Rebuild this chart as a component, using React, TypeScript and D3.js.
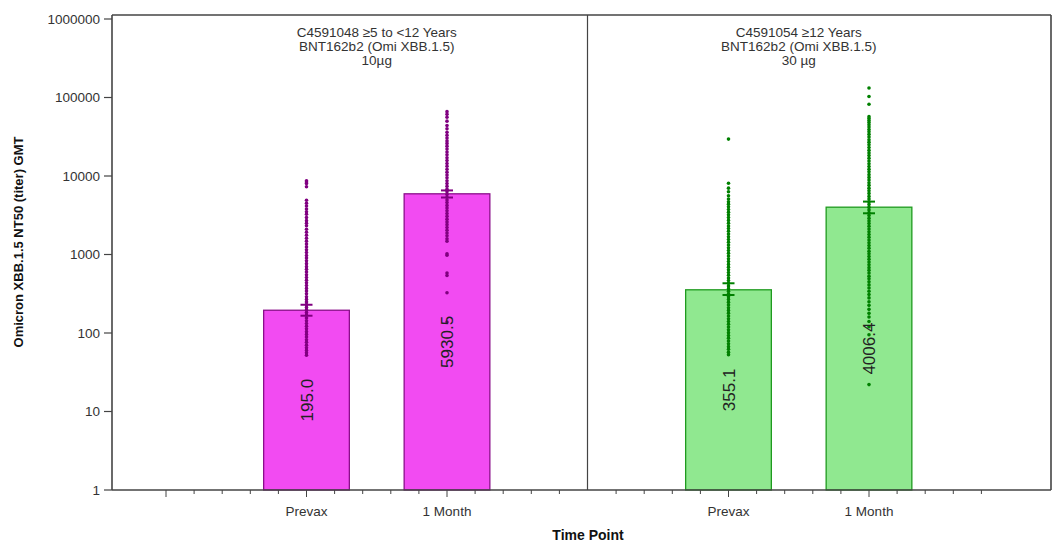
import React from 'react';
import * as d3 from 'd3';

const width = 1053;
const height = 542;
const plotLeft = 112;
const plotRight = 1051;
const plotTop = 15;
const plotBottom = 490;
const dividerX = 587.5;

// panel headings (3 lines each)
const cohorts = ['C4591048 \u22655 to <12 Years', 'C4591054 \u226512 Years'];
const vaccines = ['BNT162b2 (Omi XBB.1.5)', 'BNT162b2 (Omi XBB.1.5)'];
const doses = ['10\u00b5g', '30 \u00b5g'];

const timePoints = ['Prevax', '1 Month'];
const yTicks = [1, 10, 100, 1000, 10000, 100000, 1000000];

// GMT and 95% CI per panel, per time point
const gmtValues = [[195.0, 5930.5], [355.1, 4006.4]];
const ciLower = [[166, 5320], [305, 3350]];
const ciUpper = [[229, 6550], [430, 4720]];

// individual titers
const leftPrevax = [8700, 8400, 8000, 7300, 4900, 4500, 4150, 3800, 3500, 3250, 2950, 2700, 2500, 2320, 2100, 1920,
  1760, 1610, 1480, 1360, 1250, 1150, 1060, 970, 900, 830, 765, 700, 650, 600, 552, 510, 470, 436, 402, 370, 342,
  316, 290, 268, 249, 230, 212, 197, 182, 168, 155, 143, 132, 122, 113, 104, 96, 89, 82, 76, 70, 65, 60, 56, 52];
const leftMonth = [66000, 61000, 56000, 50000, 44000, 40000, 36000, 33000, 30500, 28000, 26000, 24000, 22000, 20200,
  18600, 17100, 15700, 14400, 13300, 12200, 11200, 10300, 9500, 8700, 8000, 7400, 6800, 6300, 5800, 5350, 4950,
  4580, 4220, 3900, 3600, 3320, 3060, 2820, 2600, 2400, 2210, 2040, 1880, 1730, 1590, 1480, 1020, 980, 580, 540,
  326, 138];
const rightPrevax = [29500, 8100, 7000, 6300, 5600, 5100, 4700, 4380, 4050, 3750, 3460, 3200, 2950, 2720, 2500,
  2310, 2140, 1980, 1820, 1680, 1550, 1430, 1320, 1220, 1125, 1035, 955, 880, 812, 748, 690, 638, 588, 545, 503,
  465, 430, 397, 367, 340, 313, 290, 268, 247, 228, 210, 194, 179, 165, 152, 140, 129, 119, 110, 101, 93, 86, 79,
  73, 67, 62, 57, 53];
const rightMonth = [132000, 103000, 82000, 57000, 54000, 51000, 48000, 45000, 42000, 39000, 36500, 34000, 31500,
  29000, 27000, 25000, 23000, 21300, 19700, 18200, 16800, 15500, 14300, 13200, 12200, 11300, 10400, 9600, 8900,
  8200, 7600, 7000, 6500, 6000, 5500, 5100, 4700, 4350, 4000, 3700, 3400, 3150, 2900, 2680, 2480, 2290, 2110, 1950,
  1800, 1660, 1530, 1410, 1300, 1200, 1100, 1020, 940, 870, 800, 740, 680, 630, 580, 530, 490, 450, 410, 375, 340,
  310, 280, 250, 225, 200, 178, 160, 140, 120, 95, 22];
const titers = [[leftPrevax, leftMonth], [rightPrevax, rightMonth]];

const barFill = ['#f24bf2', '#90e890'];
const barEdge = ['#8a0f8a', '#1f9a1f'];
const dotColor = ['#800080', '#008000'];
const font = 'Liberation Sans, Arial, sans-serif';

const y = d3.scaleLog().domain([1, 1000000]).range([plotBottom, 19]);

// each panel gets its own linear x axis: 0 = Prevax, 1 = 1 Month
const xPanels = [
  d3.scaleLinear().domain([-1, 2]).range([166, dividerX]),
  d3.scaleLinear().domain([-1, 2]).range([dividerX + 0.5, 1009.5]),
];
const tickSteps = [d3.range(0, 15), d3.range(1, 15)];
const barHalf = 0.305;

const App = () => {
  return (
    <svg width={width} height={height} style={{ position: 'absolute', left: 0, top: 0 }} fontFamily={font}>
      <rect x={0} y={0} width={width} height={height} fill="#fff" />

      {xPanels.map((x, p) => {
        const [d0] = x.domain();
        return (
          <g key={'panel' + p}>
            {gmtValues[p].map((g, i) => (
              <rect key={'bar' + i} x={x(i - barHalf)} y={y(g)} width={x(i + barHalf) - x(i - barHalf)}
                height={plotBottom - y(g)} fill={barFill[p]} stroke={barEdge[p]} strokeWidth={1.3} />
            ))}
            {titers[p].map((vals, i) => (
              <g key={'dots' + i} fill={dotColor[p]}>
                {vals.map((v, k) => (
                  <circle key={k} cx={x(i)} cy={y(v)} r={1.8} />
                ))}
              </g>
            ))}
            {gmtValues[p].map((g, i) => {
              const cx = x(i);
              return (
                <g key={'ci' + i} stroke={dotColor[p]} strokeWidth={2}>
                  <line x1={cx} x2={cx} y1={y(ciLower[p][i])} y2={y(ciUpper[p][i])} />
                  <line x1={cx - 6} x2={cx + 6} y1={y(ciLower[p][i])} y2={y(ciLower[p][i])} />
                  <line x1={cx - 6} x2={cx + 6} y1={y(ciUpper[p][i])} y2={y(ciUpper[p][i])} />
                </g>
              );
            })}
            {gmtValues[p].map((g, i) => {
              const cy = (plotBottom + y(g)) / 2;
              return (
                <text key={'lab' + i} transform={`translate(${x(i) + 6},${cy}) rotate(-90)`} textAnchor="middle"
                  fontSize={17} fill="#222">{g.toFixed(1)}</text>
              );
            })}
            {tickSteps[p].map((k) => {
              const v = d0 + k * 0.2;
              const major = k % 5 === 0;
              return (
                <line key={'t' + k} x1={x(v)} x2={x(v)} y1={plotBottom} y2={plotBottom + (major ? 7 : 4)}
                  stroke="#444" strokeWidth={1} />
              );
            })}
            {timePoints.map((t, i) => (
              <text key={'xl' + i} x={x(i)} y={516} textAnchor="middle" fontSize={13.5} fill="#333">{t}</text>
            ))}
            {[cohorts[p], vaccines[p], doses[p]].map((line, j) => (
              <text key={'title' + j} x={(x(0) + x(1)) / 2} y={37 + j * 14} textAnchor="middle" fontSize={13.5}
                fill="#333">{line}</text>
            ))}
          </g>
        );
      })}

      {/* frame and divider */}
      <g stroke="#444" strokeWidth={1.6} fill="none">
        <line x1={plotLeft} x2={plotRight} y1={plotTop} y2={plotTop} />
        <line x1={plotLeft} x2={plotLeft} y1={plotTop} y2={plotBottom} />
        <line x1={plotLeft} x2={plotRight} y1={plotBottom} y2={plotBottom} />
        <line x1={plotRight} x2={plotRight} y1={plotTop} y2={plotBottom} />
        <line x1={dividerX} x2={dividerX} y1={plotTop} y2={plotBottom} strokeWidth={1.2} />
      </g>

      {/* y axis */}
      {yTicks.map((t) => (
        <g key={t} transform={`translate(0,${y(t)})`}>
          <line x1={104} x2={plotLeft} stroke="#444" strokeWidth={1.2} />
          <text x={100} dy="0.35em" textAnchor="end" fontSize={13.5} fill="#333">{d3.format('d')(t)}</text>
        </g>
      ))}
      <text transform={`translate(23,242) rotate(-90)`} textAnchor="middle" fontSize={13} fontWeight="bold"
        fill="#111">Omicron XBB.1.5 NT50 (titer) GMT</text>
      <text x={588} y={540} textAnchor="middle" fontSize={14} fontWeight="bold" fill="#111">Time Point</text>
    </svg>
  );
};

export default App;
